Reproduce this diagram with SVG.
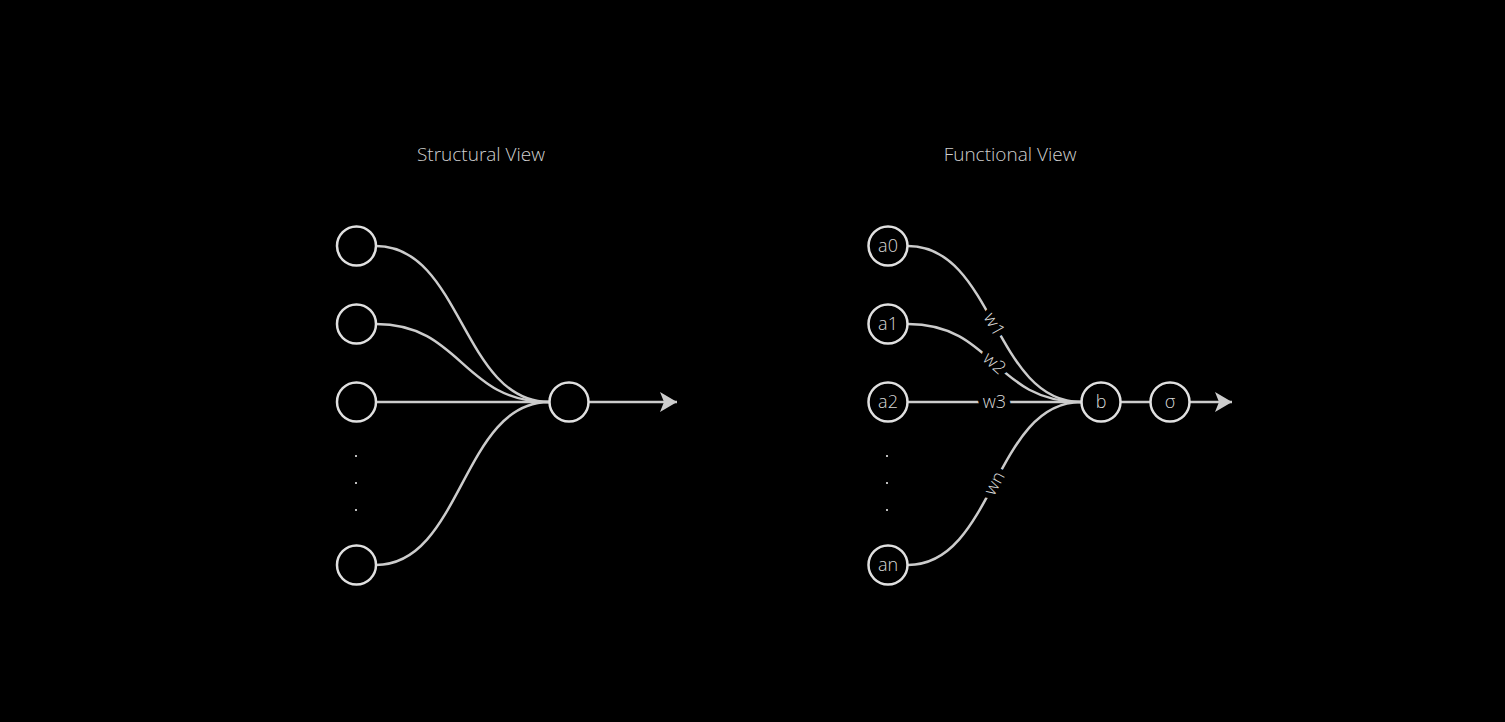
<svg xmlns="http://www.w3.org/2000/svg" xmlns:xlink="http://www.w3.org/1999/xlink" width="1505" height="722" viewBox="0 0 1505 722">
  <defs>
    <marker id="arrow" markerUnits="userSpaceOnUse" viewBox="-1 -11 20 22" markerWidth="20" markerHeight="22" refX="17" refY="0" orient="auto">
      <path d="M0,-10 L17,0 L0,10 L4,0 Z" fill="#cccccc"/>
    </marker>
    <path id="pw1" d="M908,246 C994,246 994,402 1081,402"/>
    <path id="pw2" d="M908,324 C994,324 994,402 1081,402"/>
    <path id="pw3" d="M908,402 L1081,402"/>
    <path id="pwn" d="M908,565 C994,565 994,402 1081,402"/>
  </defs>
  <style>
    .node { fill: #000; stroke: #e0e0e0; stroke-width: 2.5; }
    .edge { fill: none; stroke: #cccccc; stroke-width: 2.5; }
    .lbl { font-family: "Open Sans", "Liberation Sans", sans-serif; font-weight: 300; font-size: 18px; fill: #d9d9d9; text-anchor: middle; dominant-baseline: central; }
    .title { font-family: "Open Sans", "Liberation Sans", sans-serif; font-weight: 300; font-size: 19px; fill: #d0d0d0; text-anchor: middle; }
    .wl { font-family: "Open Sans", "Liberation Sans", sans-serif; font-weight: 300; font-size: 18px; text-anchor: middle; }
    .halo { fill: #000; stroke: #000; stroke-width: 11; stroke-linejoin: round; }
    .wt { fill: #d9d9d9; stroke: none; }
    .dot { fill: #bbbbbb; }
  </style>
  <rect width="1505" height="722" fill="#000"/>

  <text class="title" x="481" y="161">Structural View</text>
  <text class="title" x="1010" y="161">Functional View</text>

  <g id="connectors">
    <path class="edge" d="M376,246 C462,246 462,402 549,402"/>
    <path class="edge" d="M376,324 C462,324 462,402 549,402"/>
    <path class="edge" d="M376,402 L549,402"/>
    <path class="edge" d="M376,565 C462,565 462,402 549,402"/>
    <path class="edge" d="M589,402 L677,402" marker-end="url(#arrow)"/>

    <use class="edge" xlink:href="#pw1"/>
    <use class="edge" xlink:href="#pw2"/>
    <use class="edge" xlink:href="#pw3"/>
    <use class="edge" xlink:href="#pwn"/>
    <path class="edge" d="M1121,402 L1150,402"/>
    <path class="edge" d="M1190,402 L1232,402" marker-end="url(#arrow)"/>

    <g class="wl halo">
      <text><textPath xlink:href="#pw1" startOffset="50%"><tspan dy="6">w1</tspan></textPath></text>
      <text><textPath xlink:href="#pw2" startOffset="50%"><tspan dy="6">w2</tspan></textPath></text>
      <text><textPath xlink:href="#pw3" startOffset="50%"><tspan dy="6">w3</tspan></textPath></text>
      <text><textPath xlink:href="#pwn" startOffset="50%"><tspan dy="6">wn</tspan></textPath></text>
    </g>
    <g class="wl wt">
      <text><textPath xlink:href="#pw1" startOffset="50%"><tspan dy="6">w1</tspan></textPath></text>
      <text><textPath xlink:href="#pw2" startOffset="50%"><tspan dy="6">w2</tspan></textPath></text>
      <text><textPath xlink:href="#pw3" startOffset="50%"><tspan dy="6">w3</tspan></textPath></text>
      <text><textPath xlink:href="#pwn" startOffset="50%"><tspan dy="6">wn</tspan></textPath></text>
    </g>
  </g>

  <g id="s-in0"><circle class="node" cx="356.5" cy="246" r="19.5"/></g>
  <g id="s-in1"><circle class="node" cx="356.5" cy="324" r="19.5"/></g>
  <g id="s-in2"><circle class="node" cx="356.5" cy="402" r="19.5"/></g>
  <g id="s-dots">
    <rect class="dot" x="355" y="455" width="2" height="2"/>
    <rect class="dot" x="355" y="482" width="2" height="2"/>
    <rect class="dot" x="355" y="509" width="2" height="2"/>
  </g>
  <g id="s-inn"><circle class="node" cx="356.5" cy="565" r="19.5"/></g>
  <g id="s-out"><circle class="node" cx="569" cy="402" r="19.5"/></g>

  <g id="f-a0"><circle class="node" cx="888" cy="246" r="19.5"/><text class="lbl" x="888" y="244.5">a0</text></g>
  <g id="f-a1"><circle class="node" cx="888" cy="324" r="19.5"/><text class="lbl" x="888" y="322.5">a1</text></g>
  <g id="f-a2"><circle class="node" cx="888" cy="402" r="19.5"/><text class="lbl" x="888" y="400.5">a2</text></g>
  <g id="f-dots">
    <rect class="dot" x="886" y="455" width="2" height="2"/>
    <rect class="dot" x="886" y="482" width="2" height="2"/>
    <rect class="dot" x="886" y="509" width="2" height="2"/>
  </g>
  <g id="f-an"><circle class="node" cx="888" cy="565" r="19.5"/><text class="lbl" x="888" y="563.5">an</text></g>
  <g id="f-b"><circle class="node" cx="1101" cy="402" r="19.5"/><text class="lbl" x="1101" y="400.5">b</text></g>
  <g id="f-sigma"><circle class="node" cx="1170" cy="402" r="19.5"/><text class="lbl" x="1170" y="400.5">σ</text></g>
</svg>
